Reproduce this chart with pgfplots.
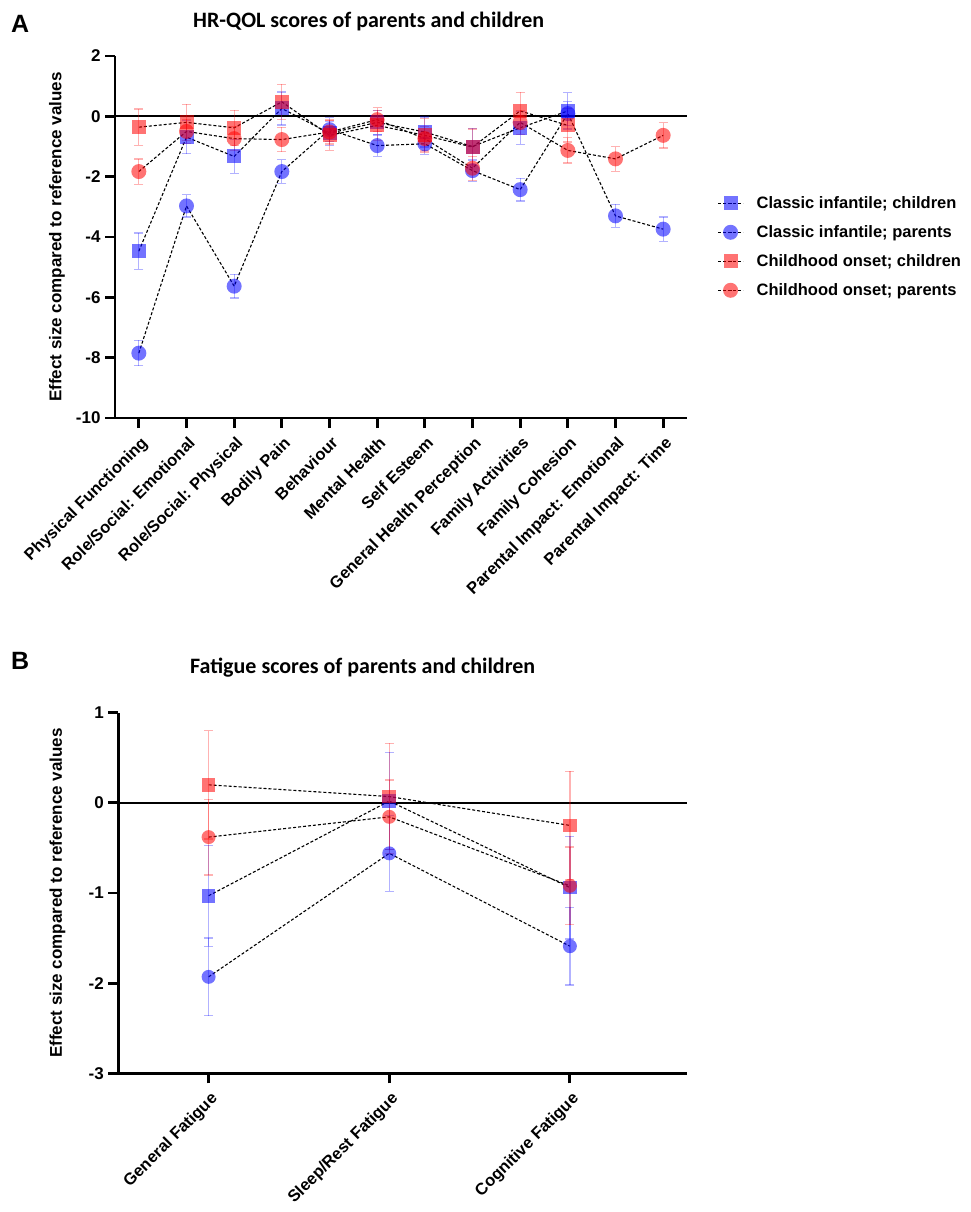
\documentclass[border=0pt]{standalone}
\usepackage{pgfplots}
\pgfplotsset{compat=1.18}
\usepackage{pgfplotstable}
\usepackage{fontspec}
\setmainfont{Liberation Sans}
\newfontfamily\calfont{Carlito}
\definecolor{myblue}{RGB}{0,0,255}
\definecolor{myred}{RGB}{255,0,0}

% Panel A: HR-QOL
\pgfplotstableread{
x y e
0 -4.47 0.60
1 -0.69 0.55
2 -1.33 0.56
3 0.26 0.55
4 -0.56 0.40
5 -0.20 0.40
6 -0.52 0.50
7 -1.00 0.60
8 -0.38 0.55
9 0.18 0.60
}\ciChildA
\pgfplotstableread{
x y e
0 -7.85 0.42
1 -2.97 0.37
2 -5.63 0.39
3 -1.83 0.39
4 -0.44 0.40
5 -0.97 0.35
6 -0.91 0.35
7 -1.80 0.35
8 -2.43 0.38
9 0.09 0.40
10 -3.30 0.38
11 -3.74 0.40
}\ciParA
\pgfplotstableread{
x y e
0 -0.36 0.60
1 -0.20 0.60
2 -0.38 0.58
3 0.48 0.58
4 -0.63 0.50
5 -0.30 0.50
6 -0.63 0.55
7 -1.02 0.60
8 0.18 0.62
9 -0.30 0.55
}\coChildA
\pgfplotstableread{
x y e
0 -1.83 0.42
1 -0.50 0.40
2 -0.74 0.40
3 -0.77 0.40
4 -0.52 0.40
5 -0.11 0.40
6 -0.74 0.40
7 -1.72 0.40
8 -0.20 0.40
9 -1.13 0.42
10 -1.41 0.41
11 -0.63 0.42
}\coParA

% Panel B: Fatigue
\pgfplotstableread{
x y e
0 -1.03 0.56
1 0.02 0.54
2 -0.94 0.57
}\ciChildB
\pgfplotstableread{
x y e
0 -1.93 0.43
1 -0.56 0.42
2 -1.59 0.43
}\ciParB
\pgfplotstableread{
x y e
0 0.20 0.60
1 0.07 0.59
2 -0.25 0.60
}\coChildB
\pgfplotstableread{
x y e
0 -0.38 0.42
1 -0.155 0.41
2 -0.92 0.43
}\coParB

\pgfplotsset{
  ser/.style n args={3}{black, line width=1.1pt, dash pattern=on 3pt off 2pt,
    mark=#1, mark size=#3,
    mark options={solid, draw=#2, draw opacity=0, line width=0pt, fill=#2, fill opacity=0.55},
    error bars/.cd, y dir=both, y explicit,
    error bar style={solid, line width=1.3pt, color=#2, opacity=0.3},
    error mark options={rotate=90, solid, line width=1.3pt, color=#2, opacity=0.3, mark size=4.5pt}},
  myaxis/.style={
    scale only axis, clip=false,
    axis x line*=bottom, axis y line*=left,
    axis line style={line width=2.8pt, black},
    tick style={line width=2.8pt, black},
    major tick length=10pt, tick align=outside,
    /pgf/number format/assume math mode=true,
    yticklabel style={font=\bfseries\fontsize{17}{18}\selectfont, xshift=-1pt},
    xticklabel style={font=\bfseries\fontsize{16.5}{18}\selectfont, xshift=1pt, yshift=-6pt, rotate=45, anchor=north east, inner sep=1pt},
    ylabel={Effect size compared to reference values},
  },
}

\begin{document}
\begin{tikzpicture}
\path[use as bounding box] (0pt,0pt) rectangle (971pt,-1212pt);

\node[font=\bfseries\fontsize{25}{26}\selectfont, anchor=base west, inner sep=0pt] at (11pt,-33pt) {A};
\node[font=\calfont\bfseries\fontsize{22}{24}\selectfont, anchor=base west, inner sep=0pt] at (193pt,-28pt) {HR-QOL scores of parents and children};

\begin{axis}[myaxis,
  at={(115pt,-418pt)}, anchor=south west,
  width=572pt, height=362pt,
  xmin=-0.5, xmax=11.5, ymin=-10, ymax=2,
  ytick={-10,-8,-6,-4,-2,0,2},
  xtick={0,...,11},
  xticklabels={Physical Functioning, Role/Social: Emotional, Role/Social: Physical, Bodily Pain, Behaviour, Mental Health, Self Esteem, General Health Perception, Family Activities, Family Cohesion, Parental Impact: Emotional, Parental Impact: Time},
  ylabel style={at={(axis description cs:-0.1014,0.5)}, anchor=center, font=\bfseries\fontsize{17}{18}\selectfont},
  legend style={at={(axis description cs:1.053,0.613)}, anchor=north west, draw=none, fill=none,
    font=\bfseries\fontsize{16.5}{18}\selectfont, row sep=14.5pt, column sep=13pt, inner sep=0pt,
    nodes={inner sep=0pt}},
  legend cell align=left,
  legend image code/.code={\draw[mark repeat=2,mark phase=2,#1] plot coordinates {(0pt,0pt) (12.5pt,0pt) (25pt,0pt)};},
]
\addplot[black, line width=2.2pt, forget plot] coordinates {(-0.5,0) (11.5,0)};
\addplot[ser={square*}{myblue}{7pt}] table[x=x, y=y, y error=e] {\ciChildA};
\addplot[ser={*}{myblue}{7.5pt}] table[x=x, y=y, y error=e] {\ciParA};
\addplot[ser={square*}{myred}{7pt}] table[x=x, y=y, y error=e] {\coChildA};
\addplot[ser={*}{myred}{7.5pt}] table[x=x, y=y, y error=e] {\coParA};
\legend{Classic infantile; children, Classic infantile; parents, Childhood onset; children, Childhood onset; parents}
\end{axis}

\node[font=\bfseries\fontsize{25}{26}\selectfont, anchor=base west, inner sep=0pt] at (11pt,-669pt) {B};
\node[font=\calfont\bfseries\fontsize{22}{24}\selectfont, anchor=base west, inner sep=0pt] at (190pt,-673pt) {Fatigue scores of parents and children};

\begin{axis}[myaxis,
  at={(118.3pt,-1073.3pt)}, anchor=south west,
  width=569pt, height=360.6pt,
  xmin=-0.5, xmax=2.65, ymin=-3, ymax=1,
  ytick={-3,-2,-1,0,1},
  xtick={0,1,2},
  xticklabels={General Fatigue, Sleep/Rest Fatigue, Cognitive Fatigue},
  ylabel style={at={(axis description cs:-0.107,0.5)}, anchor=center, font=\bfseries\fontsize{17}{18}\selectfont},
]
\addplot[black, line width=2.2pt, forget plot] coordinates {(-0.5,0) (2.65,0)};
\addplot[ser={square*}{myblue}{6.8pt}] table[x=x, y=y, y error=e] {\ciChildB};
\addplot[ser={*}{myblue}{7pt}] table[x=x, y=y, y error=e] {\ciParB};
\addplot[ser={square*}{myred}{6.8pt}] table[x=x, y=y, y error=e] {\coChildB};
\addplot[ser={*}{myred}{7pt}] table[x=x, y=y, y error=e] {\coParB};
\end{axis}
\end{tikzpicture}
\end{document}
